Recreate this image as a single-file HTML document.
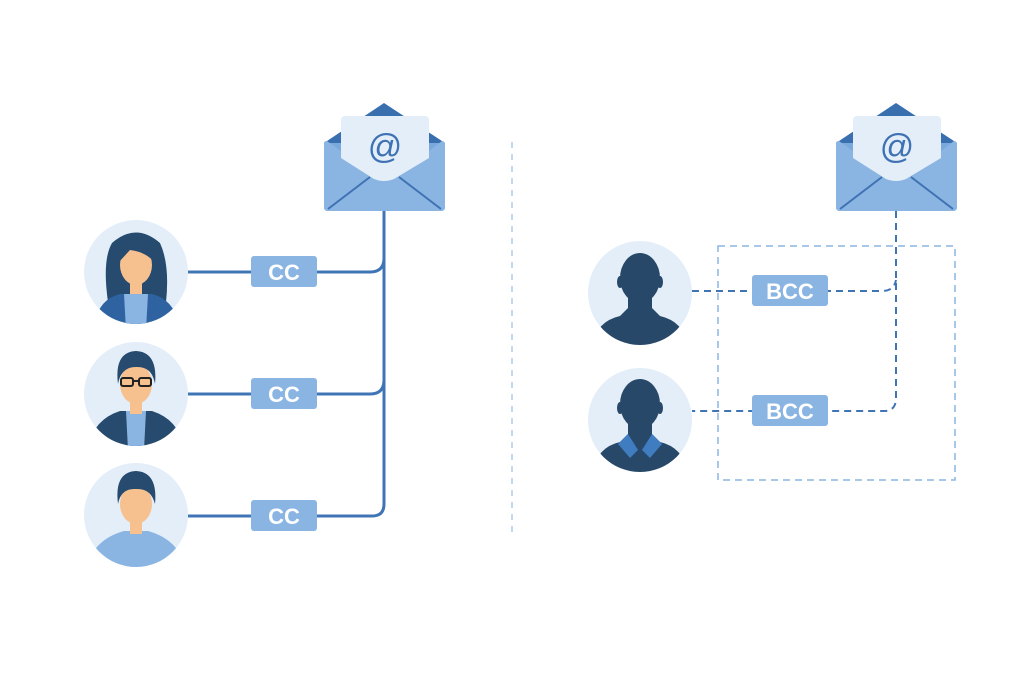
<!DOCTYPE html>
<html><head><style>
html,body{margin:0;padding:0;background:#fff;}
svg{display:block;}
text{font-family:"Liberation Sans",sans-serif;font-weight:bold;}
</style></head><body>
<svg width="1024" height="683" viewBox="0 0 1024 683" xmlns="http://www.w3.org/2000/svg">
<defs>
<g id="env">
  <path d="M0,40 L60,0 L121,40 Z" fill="#3a6faf"/>
  <path d="M0,40 L0,104 Q0,108 4,108 L117,108 Q121,108 121,104 L121,40 Z" fill="#7aa9dc"/>
  <rect x="17" y="13" width="88" height="70" rx="4" fill="#e3eef9"/>
  <path d="M0,40 Q0,38 3,38 L17,48 L17,55 L50,76 Q60,80 70,76 L105,55 L105,48 L118,38 Q121,38 121,42 L121,104 Q121,108 117,108 L4,108 Q0,108 0,104 Z" fill="#8ab5e2"/>
  <line x1="4" y1="106" x2="46" y2="74" stroke="#3f72b3" stroke-width="2"/>
  <line x1="75" y1="74" x2="117" y2="106" stroke="#3f72b3" stroke-width="2"/>
  <text x="61" y="55" text-anchor="middle" font-size="34" fill="#3f72b3" style="font-weight:normal">@</text>
</g>
</defs>

<line x1="512" y1="142" x2="512" y2="532" stroke="#aecbea" stroke-width="1.5" stroke-dasharray="6,6"/>

<g stroke="#3f74b5" stroke-width="3" fill="none">
  <path d="M384,211 L384,504 Q384,516 372,516 L188,516"/>
  <path d="M188,272 L370,272 Q384,272 384,258"/>
  <path d="M188,394 L370,394 Q384,394 384,380"/>
</g>
<use href="#env" x="324" y="103"/>

<g fill="#8ab5e2">
  <rect x="251" y="256" width="66" height="31" rx="3"/>
  <rect x="251" y="378" width="66" height="31" rx="3"/>
  <rect x="251" y="500" width="66" height="31" rx="3"/>
</g>
<g fill="#fff" font-size="22" text-anchor="middle">
  <text x="284" y="280">CC</text>
  <text x="284" y="402">CC</text>
  <text x="284" y="524">CC</text>
</g>

<defs>
  <clipPath id="c1"><circle cx="136" cy="272" r="52"/></clipPath>
  <clipPath id="c2"><circle cx="136" cy="394" r="52"/></clipPath>
  <clipPath id="c3"><circle cx="136" cy="515" r="52"/></clipPath>
  <clipPath id="c4"><circle cx="640" cy="293" r="52"/></clipPath>
  <clipPath id="c5"><circle cx="640" cy="420" r="52"/></clipPath>
</defs>
<circle cx="136" cy="272" r="52" fill="#e3eef9"/>
<g clip-path="url(#c1)">
  <path d="M108,302 Q102,260 112,243 Q136,222 160,243 Q170,265 166,302 Z" fill="#264b6e"/>
  <path d="M94,330 Q96,300 120,294 L152,294 Q176,300 180,330 Z" fill="#2f62a0"/>
  <path d="M124,294 L148,294 L146,330 L126,330 Z" fill="#8ab5e2"/>
  <rect x="130" y="280" width="12" height="14" fill="#f6c08f"/>
  <ellipse cx="136" cy="265" rx="16" ry="20" fill="#f6c08f"/>
  <path d="M119,262 Q122,240 140,242 Q154,246 154,262 Q146,252 130,250 Z" fill="#264b6e"/>
</g>
<circle cx="136" cy="394" r="52" fill="#e3eef9"/>
<g clip-path="url(#c2)">
  <path d="M88,450 Q92,420 120,411 L152,411 Q180,420 184,450 Z" fill="#264b6e"/>
  <path d="M126,411 L146,411 L144,450 L128,450 Z" fill="#8ab5e2"/>
  <rect x="130" y="398" width="12" height="16" fill="#f6c08f"/>
  <ellipse cx="136" cy="384" rx="16" ry="20" fill="#f6c08f"/>
  <path d="M118,384 Q114,352 136,351 Q158,352 155,384 Q152,366 136,367 Q121,367 118,384 Z" fill="#264b6e"/>
  <g fill="none" stroke="#222" stroke-width="2"><rect x="121" y="378" width="12" height="8" rx="2"/><rect x="139" y="378" width="12" height="8" rx="2"/><line x1="133" y1="381" x2="139" y2="381"/></g>
</g>
<circle cx="136" cy="515" r="52" fill="#e3eef9"/>
<g clip-path="url(#c3)">
  <path d="M86,570 Q92,540 124,531 L148,531 Q180,540 186,570 Z" fill="#8ab5e2"/>
  <rect x="130" y="518" width="12" height="16" fill="#f6c08f"/>
  <ellipse cx="136" cy="504" rx="16" ry="20" fill="#f6c08f"/>
  <path d="M118,504 Q114,472 136,471 Q158,472 155,504 Q151,488 136,489 Q121,488 118,504 Z" fill="#264b6e"/>
</g>

<rect x="718" y="246" width="237" height="234" fill="none" stroke="#8ab5e2" stroke-width="1.5" stroke-dasharray="7,5"/>
<g stroke="#3f74b5" stroke-width="2" fill="none" stroke-dasharray="7,5">
  <path d="M896,211 L896,398 Q896,411 884,411 L692,411"/>
  <path d="M692,291 L882,291 Q894,291 896,280"/>
</g>
<use href="#env" x="836" y="103"/>
<g fill="#8ab5e2">
  <rect x="752" y="275" width="76" height="31" rx="3"/>
  <rect x="752" y="395" width="76" height="31" rx="3"/>
</g>
<g fill="#fff" font-size="22" text-anchor="middle">
  <text x="790" y="299">BCC</text>
  <text x="790" y="419">BCC</text>
</g>

<circle cx="640" cy="293" r="52" fill="#e3eef9"/>
<g clip-path="url(#c4)" fill="#274868">
  <path d="M592,350 Q594,322 620,316 L628,308 L628,294 L652,294 L652,308 L660,316 Q686,322 688,350 Z"/>
  <ellipse cx="640" cy="278" rx="20" ry="25"/>
  <ellipse cx="620" cy="282" rx="3" ry="6"/><ellipse cx="660" cy="282" rx="3" ry="6"/>
</g>
<circle cx="640" cy="420" r="52" fill="#e3eef9"/>
<g clip-path="url(#c5)">
  <path d="M592,478 Q594,448 620,442 L628,434 L628,420 L652,420 L652,434 L660,442 Q686,448 688,478 Z" fill="#274868"/>
  <path d="M618,444 L628,434 L638,450 L630,458 Z" fill="#3f7cc0"/>
  <path d="M662,444 L652,434 L642,450 L650,458 Z" fill="#3f7cc0"/>
  <ellipse cx="640" cy="404" rx="20" ry="25" fill="#274868"/>
  <ellipse cx="620" cy="408" rx="3" ry="6" fill="#274868"/><ellipse cx="660" cy="408" rx="3" ry="6" fill="#274868"/>
</g>
</svg>
</body></html>
